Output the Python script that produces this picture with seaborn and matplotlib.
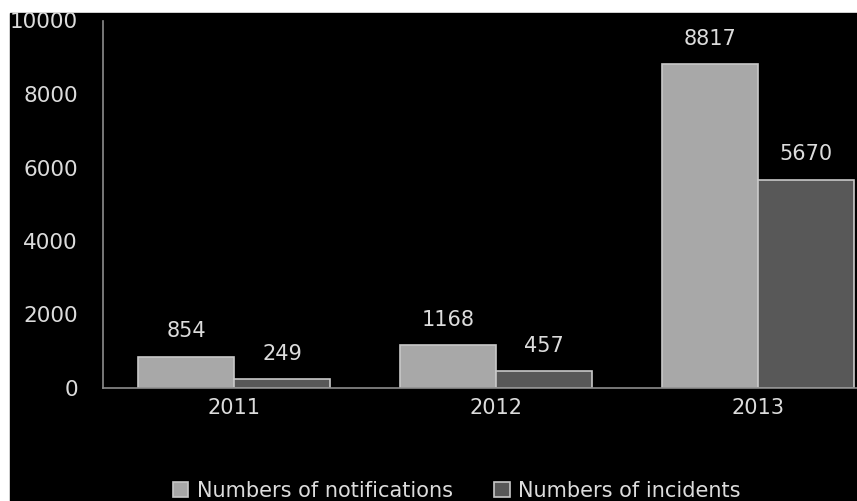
import pandas as pd
import seaborn as sns
import matplotlib.pyplot as plt
from matplotlib.patches import Rectangle

years = ["2011", "2012", "2013"]
notifications = [854, 1168, 8817]
incidents = [249, 457, 5670]
series_names = ["Numbers of notifications", "Numbers of incidents"]

df = pd.DataFrame({
    "Year": years * 2,
    "Count": notifications + incidents,
    "Series": [series_names[0]] * 3 + [series_names[1]] * 3,
})

sns.set_style("dark")
plt.rcParams['font.family'] = ['DejaVu Sans']
text_col = "#dcdcdc"

fig = plt.figure(figsize=(8.57, 5.01), dpi=100, facecolor="white")
fig.patches.append(Rectangle((10 / 857, 0), 1, 1 - 13 / 501, transform=fig.transFigure,
                             color="black", zorder=-10))
ax = fig.add_axes([103 / 857, 1 - 388 / 501, 754 / 857, 367.5 / 501])
ax.set_facecolor("black")

sns.barplot(data=df, x="Year", y="Count", hue="Series", ax=ax,
            palette=["#a8a8a8", "#585858"], width=0.733, gap=0,
            edgecolor="#c8c8c8", linewidth=1.2, saturation=1, legend=True)

for cont in ax.containers:
    ax.bar_label(cont, padding=11, color=text_col, fontsize=15)

ax.set_xlim(-0.5, 2.378)
ax.set_ylim(0, 10000)
ax.set_yticks([0, 2000, 4000, 6000, 8000, 10000])
ax.set_xlabel("")
ax.set_ylabel("")
ax.grid(False)
for s in ["top", "right"]:
    ax.spines[s].set_visible(False)
for s in ["left", "bottom"]:
    ax.spines[s].set_visible(True)
    ax.spines[s].set_color("#8c8c8c")
    ax.spines[s].set_linewidth(1.2)
ax.tick_params(axis="y", length=0, pad=18, labelcolor=text_col, labelsize=15.5)
ax.tick_params(axis="x", length=0, pad=7, labelcolor=text_col, labelsize=15)

ax.legend_.remove()
handles, labels = ax.get_legend_handles_labels()
leg = fig.legend(handles, labels, loc="center", bbox_to_anchor=(0.533, 0.02), ncol=2,
                 frameon=False, fontsize=15, labelcolor=text_col,
                 handlelength=0.75, handleheight=0.75,
                 handletextpad=0.4, columnspacing=2.0)

fig.savefig("out.png", dpi=100, facecolor="white")
